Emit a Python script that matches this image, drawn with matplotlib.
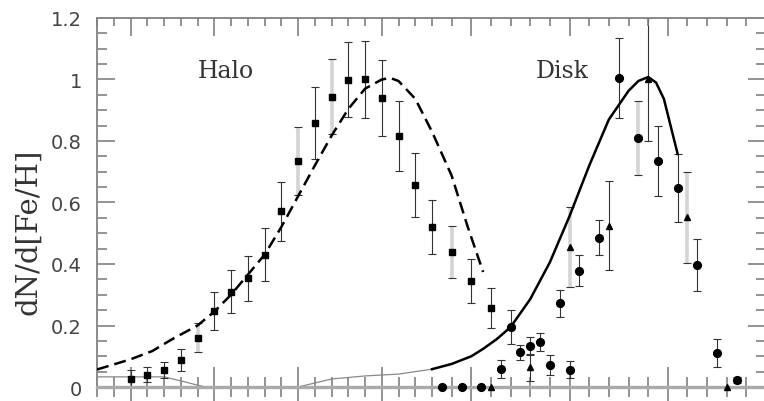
import numpy as np
import matplotlib
matplotlib.use("Agg")
import matplotlib.pyplot as plt
from matplotlib.ticker import MultipleLocator, NullFormatter

# halo sample, 0.1 dex bins
halo_feh = [-3.0, -2.9, -2.8, -2.7, -2.6, -2.5, -2.4, -2.3, -2.2, -2.1, -2.0,
            -1.9, -1.8, -1.7, -1.6, -1.5, -1.4, -1.3, -1.2, -1.1, -1.0, -0.9]
halo_n = [0.026, 0.04, 0.055, 0.088, 0.16, 0.247, 0.31, 0.354, 0.43, 0.572, 0.735,
          0.859, 0.944, 0.999, 1.0, 0.94, 0.815, 0.657, 0.52, 0.44, 0.344, 0.256]
halo_err = [0.03, 0.025, 0.025, 0.036, 0.047, 0.063, 0.07, 0.073, 0.086, 0.096, 0.11,
            0.117, 0.122, 0.122, 0.124, 0.124, 0.114, 0.105, 0.088, 0.084, 0.072, 0.065]

# disk sample (circles)
disk_feh = [-1.15, -1.05, -0.95, -0.85, -0.8, -0.75, -0.7, -0.65, -0.6, -0.55,
            -0.5, -0.45, -0.35, -0.25, -0.15, -0.05, 0.05, 0.15, 0.25, 0.35]
disk_n = [0.0, 0.0, 0.0, 0.058, 0.195, 0.113, 0.134, 0.147, 0.072, 0.273,
          0.056, 0.378, 0.486, 1.005, 0.81, 0.735, 0.647, 0.397, 0.11, 0.023]
disk_err = [0.0, 0.0, 0.0, 0.03, 0.055, 0.025, 0.03, 0.03, 0.032, 0.044,
            0.028, 0.05, 0.056, 0.13, 0.12, 0.113, 0.11, 0.085, 0.045, 0.01]

# second disk sample (triangles), 0.2 dex bins
tri_feh = [-0.9, -0.7, -0.5, -0.3, -0.1, 0.1, 0.3]
tri_n = [0.0, 0.064, 0.455, 0.524, 1.0, 0.552, 0.0]
tri_err = [0.0, 0.043, 0.13, 0.145, 0.2, 0.148, 0.0]

# bins whose error bars are printed light
light_halo = [-2.6, -2.0, -1.8, -1.1]
light_disk = [-0.15]
light_tri = [-0.5, 0.1]

# models
halo_model_feh = [-3.2, -3.0, -2.87, -2.75, -2.6, -2.5, -2.4, -2.3, -2.2, -2.1, -2.0,
                  -1.9, -1.8, -1.7, -1.6, -1.5, -1.45, -1.4, -1.3, -1.2, -1.1, -1.02, -0.94]
halo_model = [0.057, 0.09, 0.117, 0.156, 0.2, 0.245, 0.3, 0.365, 0.43, 0.52, 0.62,
              0.72, 0.817, 0.904, 0.97, 1.0, 1.005, 0.995, 0.937, 0.83, 0.687, 0.524, 0.374]

disk_model_feh = [-2.0, -1.8, -1.6, -1.4, -1.2, -1.1, -1.0, -0.94, -0.87, -0.8, -0.7,
                  -0.6, -0.5, -0.4, -0.3, -0.2, -0.15, -0.1, -0.06, -0.02, 0.01, 0.05]
disk_model = [0.0, 0.026, 0.036, 0.042, 0.058, 0.075, 0.10, 0.124, 0.156, 0.195, 0.286,
              0.406, 0.556, 0.72, 0.87, 0.963, 0.995, 1.008, 0.99, 0.937, 0.86, 0.758]

tail_feh = [-3.2, -2.8, -2.7, -2.6, -2.55]
tail_model = [0.033, 0.033, 0.02, 0.006, 0.0]


# axis is stretched a bit above [Fe/H] = -1.2
def fwd(x):
    x = np.asarray(x, dtype=float)
    return np.where(x < -1.2, x + 1.2, (x + 1.2) * 1.173)


def inv(u):
    u = np.asarray(u, dtype=float)
    return np.where(u < 0, u, u / 1.173) - 1.2


grey = "#808080"

fig = plt.figure(figsize=(7.64, 4.02), dpi=100)
ax = fig.add_axes([0.127, 0.0348, 0.8757, 0.918])
ax.set_xscale("function", functions=(fwd, inv))
ax.set_xlim(-3.2, 0.5)
ax.set_ylim(0, 1.2)

# models
ax.plot(halo_model_feh, halo_model, color="black", lw=1.8, dashes=(4.8, 2.4),
        zorder=6)
ax.plot(disk_model_feh[4:], disk_model[4:], color="black", lw=1.8,
        solid_joinstyle="round", zorder=6)
ax.plot(disk_model_feh[:5], disk_model[:5], color="#888888", lw=0.9)
ax.plot(tail_feh, tail_model, color="#888888", lw=0.9)


def bars(x, y, e, light, marker, ms):
    x = np.array(x)
    y = np.array(y)
    e = np.array(e)
    pale = np.isin(x, light)
    ax.errorbar(x[~pale], y[~pale], yerr=e[~pale], fmt="none", ecolor="#333333",
                elinewidth=0.8, capsize=3, capthick=0.8)
    ax.errorbar(x[pale], y[pale], yerr=e[pale], fmt="none", ecolor="#d4d4d4",
                elinewidth=2.6, capsize=0)
    ax.errorbar(x[pale], y[pale], yerr=e[pale], fmt="none", ecolor="#333333",
                elinewidth=0, capsize=3, capthick=0.8)
    ax.plot(x, y, linestyle="none", marker=marker, ms=ms, color="black",
            clip_on=False, zorder=5)


bars(halo_feh, halo_n, halo_err, light_halo, "s", 4.6)
bars(disk_feh, disk_n, disk_err, light_disk, "o", 5.6)
bars(tri_feh, tri_n, tri_err, light_tri, "^", 4.4)

ax.text(-2.43, 1.03, "Halo", family="DejaVu Serif", fontsize=17,
        color="#333333", ha="center", va="center")
ax.text(-0.54, 1.03, "Disk", family="DejaVu Serif", fontsize=17,
        color="#333333", ha="center", va="center")

ax.set_ylabel("dN/d[Fe/H]", family="DejaVu Serif", fontsize=21, color="#333333")
ax.yaxis.set_label_coords(-0.082, 0.423)

# ticks
ax.xaxis.set_major_locator(MultipleLocator(0.5))
ax.xaxis.set_minor_locator(MultipleLocator(0.1))
ax.xaxis.set_major_formatter(NullFormatter())
ax.yaxis.set_major_locator(MultipleLocator(0.2))
ax.yaxis.set_minor_locator(MultipleLocator(0.05))
ax.yaxis.set_major_formatter(lambda v, pos: "%g" % round(v, 2))

ax.tick_params(axis="x", which="major", direction="inout", length=29, width=1.2,
               color=grey, top=False)
ax.tick_params(axis="x", which="minor", direction="inout", length=14, width=1.2,
               color=grey, top=False)
ax.tick_params(axis="y", which="major", direction="in", length=13, width=1.2,
               color=grey, left=True, right=True, labelsize=14, labelcolor="#444444",
               pad=11)
ax.tick_params(axis="y", which="minor", direction="in", length=7, width=1.2,
               color=grey, left=True, right=True)

for side in ["left", "top", "right"]:
    ax.spines[side].set_color("#8a8a8a")
    ax.spines[side].set_linewidth(1.4)
ax.spines["bottom"].set_color("#aaaaaa")
ax.spines["bottom"].set_linewidth(2.4)

# top ticks point inward only
top = fig.add_axes(ax.get_position(), sharex=ax, frameon=False)
top.patch.set_visible(False)
top.tick_params(axis="x", which="both", bottom=False, top=True, labelbottom=False,
                direction="in", color=grey, width=1.2)
top.tick_params(axis="x", which="major", length=13)
top.tick_params(axis="x", which="minor", length=6)
top.set_yticks([])

fig.savefig("out.png", dpi=100)
